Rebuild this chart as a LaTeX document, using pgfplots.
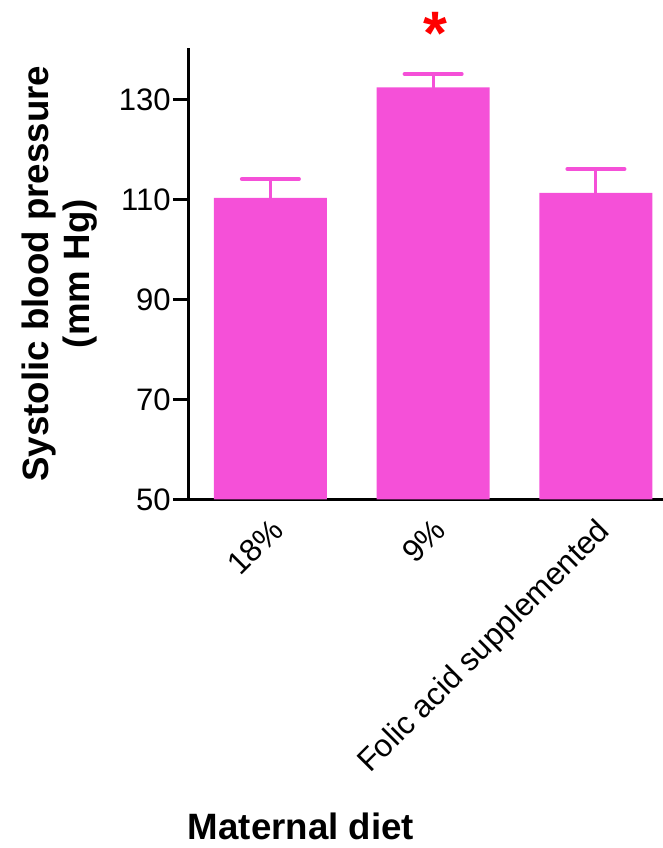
\documentclass[border=0pt]{standalone}
\usepackage{fontspec}
\setmainfont{Liberation Sans}
\usepackage{pgfplots}
\pgfplotsset{compat=1.18}
\definecolor{barpink}{HTML}{F550D8}
\begin{document}
\begin{tikzpicture}
\begin{axis}[
  scale only axis,
  width=355.5pt, height=338.5pt,
  xmin=-0.5, xmax=2.412,
  ymin=50, ymax=140.26,
  axis x line=bottom, axis y line=left,
  axis line style={line width=2.25pt, -},
  ytick={50,70,90,110,130},
  xtick={0,1,2},
  xticklabels={18\%, 9\%, Folic acid supplemented},
  x tick style={draw=none},
  y tick style={line width=2.25pt, black},
  tick align=outside,
  major tick length=12pt,
  /pgf/number format/assume math mode=true,
  yticklabel style={font=\fontsize{23.3}{23.3}\selectfont, inner sep=0pt, xshift=-1.5pt},
  xticklabel style={font=\fontsize{23.7}{23.7}\selectfont, rotate=45, anchor=north east, inner sep=0pt, xshift=-1pt},
  ylabel={Systolic blood pressure\\(mm Hg)},
  ylabel style={font=\fontsize{27.5}{30.5}\selectfont\bfseries, align=center, inner sep=0pt,
     at={(axis description cs:-0.194,0.5)}, anchor=south},
  xlabel={Maternal diet},
  xlabel style={font=\fontsize{27.5}{30}\selectfont\bfseries, inner sep=0pt,
     at={(axis description cs:0.2363,-0.7527)}, anchor=base},
  clip=false,
]
\addplot[ybar, bar width=84.75pt, fill=barpink, draw=none,
  error bars/.cd, y dir=plus, y explicit,
  error bar style={line width=2.3pt, barpink, line cap=round},
  error mark options={rotate=90, mark size=21.4pt, line width=3pt, barpink, line cap=round}]
  coordinates {
  (0,110.3) +- (0,3.76)
  (1,132.4) +- (0,2.66)
  (2,111.3) +- (0,4.76)
  };
\node[anchor=base, text=red, inner sep=0pt] at (axis cs:1.012,138.9) {\fontsize{46}{46}\selectfont\bfseries *};
\end{axis}
\pgfresetboundingbox
\path ([shift={(-141.75pt,-261.5pt)}]current axis.south west) rectangle ([shift={(0pt,36pt)}]current axis.north east);
\end{tikzpicture}
\end{document}
